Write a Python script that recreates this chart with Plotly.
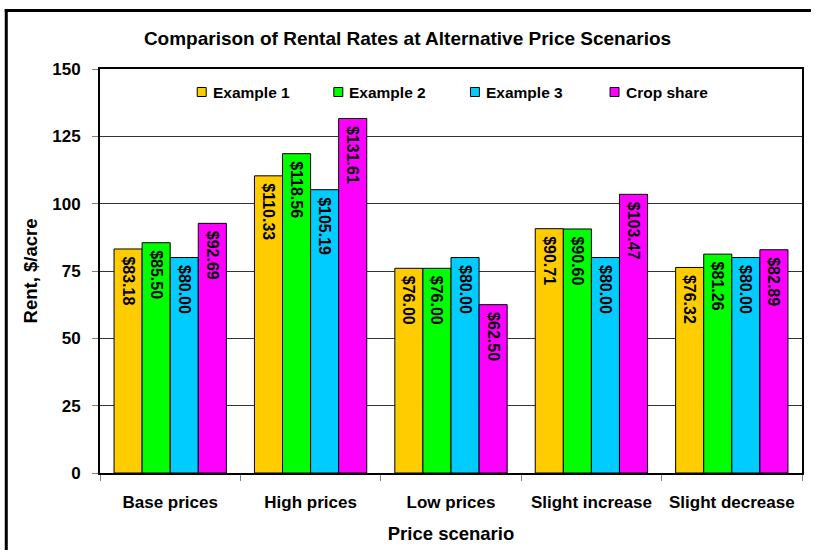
import plotly.graph_objects as go

# Rent per acre under each price scenario
scenarios = ["Base prices", "High prices", "Low prices", "Slight increase", "Slight decrease"]
example_1 = [83.18, 110.33, 76.00, 90.71, 76.32]
example_2 = [85.50, 118.56, 76.00, 90.60, 81.26]
example_3 = [80.00, 105.19, 80.00, 80.00, 80.00]
crop_share = [92.69, 131.61, 62.50, 103.47, 82.89]

series_names = ["Example 1", "Example 2", "Example 3", "Crop share"]
series_values = [example_1, example_2, example_3, crop_share]
series_colors = ["#FFCC00", "#00FF00", "#00CCFF", "#FF00FF"]

y_ticks = [0, 25, 50, 75, 100, 125, 150]

FONT = "Liberation Sans, Arial, sans-serif"

fig = go.Figure()
for name, vals, color in zip(series_names, series_values, series_colors):
    fig.add_trace(go.Bar(
        name=name,
        x=scenarios,
        y=vals,
        marker=dict(color=color, line=dict(color="#000000", width=1)),
        texttemplate="\u00a0$%{y:.2f}",
        textposition="inside",
        insidetextanchor="end",
        textangle=90,
        constraintext="none",
        insidetextfont=dict(family=FONT, size=16, color="#000000", weight="bold"),
        hoverinfo="skip",
        showlegend=False,
    ))

W, H = 815, 552
ML, MR, MT, MB = 100, 11, 69, 79
pw, ph = W - ML - MR, H - MT - MB

def px_x(x):
    return (x - ML) / pw

def px_y(y):
    return 1 - (y - MT) / ph

# Chart frame: left and top edges, kept well inside the page
frame_left, frame_top = 6, 10.5
shapes = [
    dict(type="line", xref="paper", yref="paper",
         x0=px_x(frame_left), x1=px_x(frame_left),
         y0=px_y(frame_top - 1.5), y1=px_y(H - 2),
         line=dict(color="#000000", width=3), layer="above"),
    dict(type="line", xref="paper", yref="paper",
         x0=px_x(frame_left - 1.5), x1=px_x(W - 2),
         y0=px_y(frame_top), y1=px_y(frame_top),
         line=dict(color="#000000", width=3), layer="above"),
]
annotations = []

# Legend row inside the top of the plot: small swatch + series name
legend_y = 92
legend_swatch_x = [202, 339, 476, 616]
swatch = 9
for name, color, cx in zip(series_names, series_colors, legend_swatch_x):
    shapes.append(dict(
        type="rect", xref="paper", yref="paper",
        x0=px_x(cx - swatch / 2), x1=px_x(cx + swatch / 2),
        y0=px_y(legend_y + swatch / 2), y1=px_y(legend_y - swatch / 2),
        fillcolor=color, line=dict(color="#000000", width=1), layer="above",
    ))
    annotations.append(dict(
        text=name, xref="paper", yref="paper",
        x=px_x(cx + 9), y=px_y(legend_y),
        xanchor="left", yanchor="middle", showarrow=False,
        font=dict(family=FONT, size=15.5, color="#000000", weight="bold"),
    ))

fig.update_layout(
    width=W, height=H,
    margin=dict(l=ML, r=MR, t=MT, b=MB, pad=0),
    paper_bgcolor="#FFFFFF",
    plot_bgcolor="#FFFFFF",
    barmode="group",
    bargap=0.2,
    bargroupgap=0,
    showlegend=False,
    font=dict(family=FONT, size=17, color="#000000", weight="bold"),
    title=dict(
        text="Comparison of Rental Rates at Alternative Price Scenarios",
        x=0.5, xref="container", xanchor="center",
        y=1 - 38 / H, yref="container", yanchor="middle",
        font=dict(family=FONT, size=19, color="#000000", weight="bold"),
    ),
    xaxis=dict(
        showline=True, linecolor="#000000", linewidth=2, mirror=True,
        ticks="outside", tickson="boundaries", ticklen=6, tickcolor="#808080",
        ticklabelstandoff=13,
        tickfont=dict(family=FONT, size=17, color="#000000", weight="bold"),
        title=dict(text="Price scenario", standoff=16,
                   font=dict(family=FONT, size=18.5, color="#000000", weight="bold")),
        showgrid=False,
    ),
    yaxis=dict(
        range=[0, 150],
        tickvals=y_ticks,
        showline=True, linecolor="#000000", linewidth=2, mirror=True,
        ticks="outside", ticklen=6, tickcolor="#808080",
        ticklabelstandoff=8,
        tickfont=dict(family=FONT, size=17, color="#000000", weight="bold"),
        showgrid=True, gridcolor="#333333", gridwidth=1,
        zeroline=False,
        title=dict(text="Rent, $/acre", standoff=10,
                   font=dict(family=FONT, size=18.5, color="#000000", weight="bold")),
    ),
    shapes=shapes,
    annotations=annotations,
)

fig.write_html("out.html")
